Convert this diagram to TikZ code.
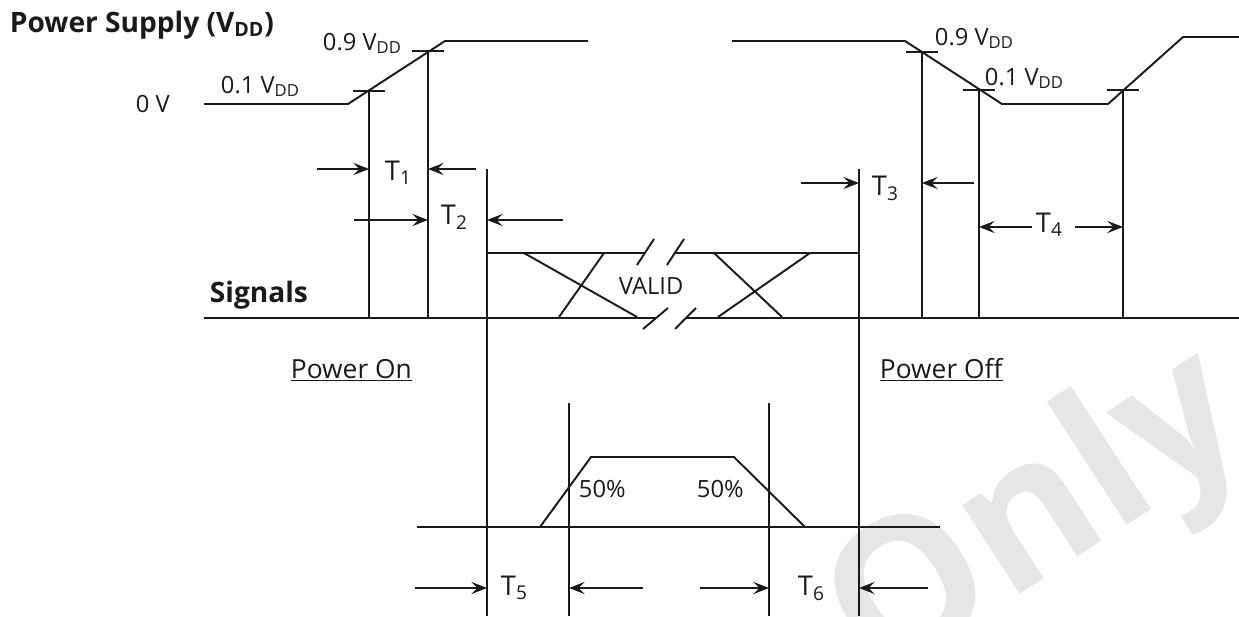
\documentclass[tikz,border=0pt]{standalone}
\usepackage{fontspec}
\setmainfont{Open Sans}
\usepackage{tikz}
\usetikzlibrary{arrows.meta,positioning,calc}
\definecolor{ink}{HTML}{1A1A1A}
\definecolor{wmgrey}{HTML}{E6E6E6}
\newcommand{\vdd}{V\textsubscript{DD}}

\begin{document}
\begin{tikzpicture}[x=0.02cm,y=-0.02cm,line width=1.1pt,color=ink,
    lbl/.style={inner sep=0pt,anchor=base west,font=\fontsize{13.5}{16}\selectfont},
    tlbl/.style={lbl,font=\fontsize{15.5}{18}\selectfont},
    hdr/.style={lbl,font=\fontsize{16}{18}\selectfont\bfseries},
    uline/.style={tlbl,font=\fontsize{15}{18}\selectfont},
    dim/.style={-{Stealth[length=9pt,width=7pt,inset=3.5pt]}}]
  \useasboundingbox (0,0) rectangle (1239,616);
  \begin{scope}
    \clip (0,0) rectangle (1239,616);
    \node[rotate=33,text=wmgrey,font=\fontsize{110}{110}\selectfont\bfseries] (wm) at (1040,522) {Only};
  \end{scope}

  % labels
  \node[hdr] (supply) at (9,32) {Power Supply (\vdd)};
  \node[hdr] (signals) at (209,302) {Signals};
  \node[lbl] (zero) at (135,112) {0 V};
  \node[lbl] (lo1) at (220,93) {0.1 \vdd};
  \node[lbl] (hi1) at (322,50) {0.9 \vdd};
  \node[lbl] (hi2) at (934,45) {0.9 \vdd};
  \node[lbl] (lo2) at (984,85) {0.1 \vdd};
  \node[lbl] (valid) at (618,294) {VALID};
  \node[lbl] (half1) at (578,497) {50\%};
  \node[lbl] (half2) at (696,497) {50\%};
  \node[uline] (pon) at (290,378) {\underline{Power On}};
  \node[uline] (poff) at (879,378) {\underline{Power Off}};
  \node[tlbl] (t1) at (384,180) {T\textsubscript{1}};
  \node[tlbl] (t2) at (440,224) {T\textsubscript{2}};
  \node[tlbl] (t3) at (871,195) {T\textsubscript{3}};
  \node[tlbl] (t4) at (1035,232) {T\textsubscript{4}};
  \node[tlbl] (t5) at (500,595) {T\textsubscript{5}};
  \node[tlbl] (t6) at (797,595) {T\textsubscript{6}};

  % supply waveform
  \coordinate (rA) at (204,104); \coordinate (rB) at (348,104);
  \coordinate (rC) at (445,41);  \coordinate (rD) at (588,41);
  \coordinate (fA) at (732,41);  \coordinate (fB) at (905,41);
  \coordinate (fC) at (1002,104); \coordinate (fD) at (1108,104);
  \coordinate (fE) at (1183,37); \coordinate (fF) at (1239,37);
  \draw (rA) -- (rB) -- (rC) -- (rD);
  \draw (fA) -- (fB) -- (fC) -- (fD) -- (fE) -- (fF);

  % level marks and verticals
  \coordinate (m1) at (369,91);  \coordinate (m2) at (428,51);
  \coordinate (m3) at (922,52);  \coordinate (m4) at (979,90);
  \coordinate (m5) at (1123,90);
  \foreach \m in {m1,m2,m3,m4,m5}{
    \draw ([xshift=-16*0.02cm]\m) -- ([xshift=16*0.02cm]\m);
    \draw (\m) -- (\m |- 0,318);
  }
  \coordinate (v3) at (487,169); \coordinate (v4) at (859,169);
  \coordinate (v8) at (569,403); \coordinate (v9) at (769,403);
  \foreach \v in {v3,v4,v8,v9}
    \draw (\v) -- (\v |- 0,616);

  % signals
  \draw (204,318) -- (656,318) (686,318) -- (1239,318);
  \draw (v3 |- 0,253) -- (645,253) (675,253) -- (v4 |- 0,253);
  \draw (524,253) -- (637,317) (604,253) -- (559,317);
  \draw (714,253) -- (782,317) (810,253) -- (718,317);
  \draw (637,265) -- (654,239) (667,265) -- (684,239);
  \draw (643,329) -- (668,308) (675,329) -- (696,308);

  % pulse
  \draw (417,527) -- (940,527);
  \draw (540,527) -- (591,457) -- (734,457) -- (805,527);

  % timing arrows
  \coordinate (a1) at (317,169); \coordinate (b1) at (476,169);
  \coordinate (a2) at (354,220); \coordinate (b2) at (563,220);
  \coordinate (a3) at (801,183); \coordinate (b3) at (974,183);
  \coordinate (a4) at (1075,227); \coordinate (b4) at (1032,227);
  \coordinate (a5) at (415,588); \coordinate (b5) at (643,588);
  \coordinate (a6) at (700,588); \coordinate (b6) at (928,588);
  \draw[dim] (a1) -- (a1 -| m1);
  \draw[dim] (b1) -- (b1 -| m2);
  \draw[dim] (a2) -- (a2 -| m2);
  \draw[dim] (b2) -- (b2 -| v3);
  \draw[dim] (a3) -- (a3 -| v4);
  \draw[dim] (b3) -- (b3 -| m3);
  \draw[dim] (b4) -- (b4 -| m4);
  \draw[dim] (a4) -- (a4 -| m5);
  \draw[dim] (a5) -- (a5 -| v3);
  \draw[dim] (b5) -- (b5 -| v8);
  \draw[dim] (a6) -- (a6 -| v9);
  \draw[dim] (b6) -- (b6 -| v4);
\end{tikzpicture}
\end{document}
